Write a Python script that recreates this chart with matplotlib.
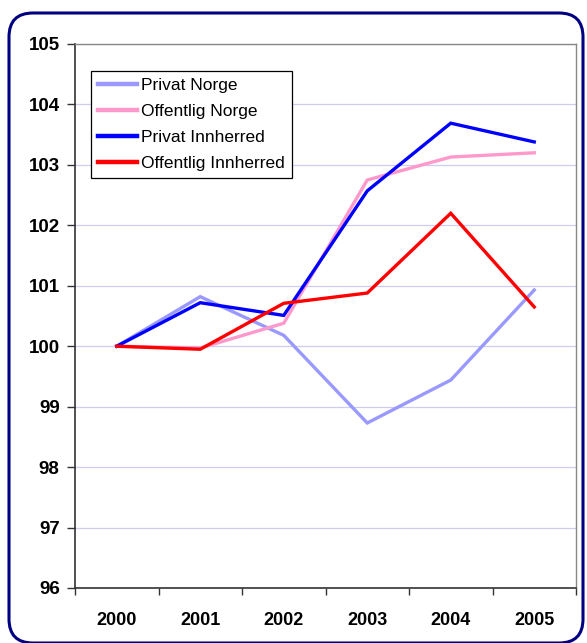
import matplotlib
matplotlib.use("Agg")
import matplotlib.pyplot as plt
from matplotlib.patches import FancyBboxPatch
from matplotlib.transforms import IdentityTransform

plt.rcParams['font.family'] = ['Liberation Sans', 'DejaVu Sans']

# data
years = ['2000', '2001', '2002', '2003', '2004', '2005']
privat_norge = [100.0, 100.82, 100.18, 98.73, 99.44, 100.93]
offentlig_norge = [100.0, 99.97, 100.38, 102.75, 103.13, 103.2]
privat_innherred = [100.0, 100.72, 100.51, 102.57, 103.69, 103.38]
offentlig_innherred = [100.0, 99.95, 100.71, 100.88, 102.2, 100.65]

series = [
    ('Privat Norge', privat_norge, '#9999FF'),
    ('Offentlig Norge', offentlig_norge, '#FF99CC'),
    ('Privat Innherred', privat_innherred, '#0000FF'),
    ('Offentlig Innherred', offentlig_innherred, '#FF0000'),
]

fig = plt.figure(figsize=(5.87, 6.43), dpi=100)
ax = fig.add_axes([75 / 587, 1 - 588 / 643, 501 / 587, 544 / 643])

x = list(range(len(years)))
for name, vals, col in series:
    ax.plot(x, vals, color=col, lw=2.4, label=name, solid_joinstyle='miter')

ax.set_xlim(-0.5, len(years) - 0.5)
ax.set_ylim(96, 105)
ax.set_yticks(range(96, 106))
ax.yaxis.grid(True, color='#CCCCF5', lw=0.9)
ax.set_axisbelow(True)

# category axis: ticks between categories, labels centred
ax.set_xticks([i - 0.5 for i in range(len(years) + 1)])
ax.set_xticklabels([])
ax.set_xticks(x, minor=True)
ax.set_xticklabels(years, minor=True)
ax.tick_params(axis='x', which='major', length=5, width=1, color='#333333', direction='out')
ax.tick_params(axis='x', which='minor', length=0, pad=17, labelsize=13)
ax.tick_params(axis='y', length=6, width=1, color='#333333', labelsize=13.5, pad=5)
for lab in ax.get_xticklabels(minor=True) + ax.get_yticklabels():
    lab.set_fontweight('bold')

for side in ['left', 'bottom']:
    ax.spines[side].set_color('#333333')
    ax.spines[side].set_linewidth(1.2)
for side in ['top', 'right']:
    ax.spines[side].set_color('#888888')
    ax.spines[side].set_linewidth(1.0)

leg = ax.legend(loc='upper left', bbox_to_anchor=(0.032, 0.9504), borderaxespad=0,
                fancybox=False, edgecolor='black', framealpha=1, fontsize=12.5,
                handlelength=2.25, handletextpad=0.25, labelspacing=0.62,
                borderpad=0.4)
leg.get_frame().set_linewidth(0.9)
for line in leg.get_lines():
    line.set_linewidth(3.2)

# rounded outer frame
frame = FancyBboxPatch((9, 0), 574, 630, boxstyle='round,pad=0,rounding_size=24',
                       transform=IdentityTransform(), fill=False,
                       edgecolor='#000080', lw=2.2, zorder=10)
fig.patches.append(frame)

fig.savefig('out.png', dpi=100)
